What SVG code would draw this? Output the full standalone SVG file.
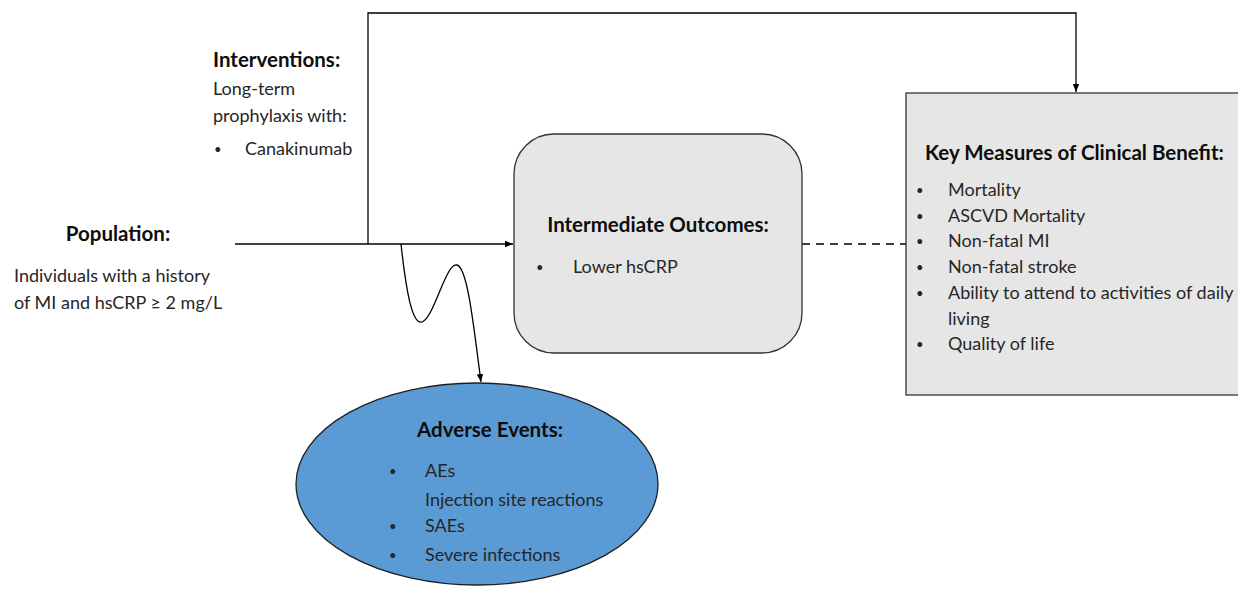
<svg xmlns="http://www.w3.org/2000/svg" width="1238" height="594" viewBox="0 0 1238 594">
<style>
text{font-family:Lato,"Open Sans","Liberation Sans",sans-serif;fill:#262626;font-size:18px}
.b{font-weight:bold;font-size:20.5px;fill:#0d0d0d}
.d{font-size:13px}
.ln{fill:none;stroke:#000;stroke-width:1.3}
.box{fill:#e6e6e6;stroke:#333;stroke-width:1.3}
</style>
<defs>
<marker id="ah" viewBox="0 0 10 10" refX="10" refY="5" markerWidth="8" markerHeight="8" markerUnits="userSpaceOnUse" orient="auto">
<path d="M0,1 L10,5 L0,9 z" fill="#000"/>
</marker>
</defs>
<rect width="1238" height="594" fill="#fff"/>
<g id="connectors">
<path class="ln" d="M235,244 H513" stroke-width="2" marker-end="url(#ah)"/>
<path class="ln" d="M368,244 V13 H1076 V92" marker-end="url(#ah)"/>
<path class="ln" d="M401,244 C406,290 412,325 422,322 C434,318 446,262 457,265 C468,268 474,330 481,382" marker-end="url(#ah)"/>
<path class="ln" d="M802,244 H906" stroke-width="2" stroke-dasharray="8,6" stroke="#333"/>
</g>
<g id="interventions">
<text class="b" x="213" y="67">Interventions:</text>
<text x="213" y="95">Long-term</text>
<text x="213" y="122">prophylaxis with:</text>
<text class="d" x="214" y="154">•</text>
<text x="245" y="155">Canakinumab</text>
</g>
<g id="population">
<text class="b" x="118" y="241" text-anchor="middle">Population:</text>
<text x="14" y="282">Individuals with a history</text>
<text x="14" y="309">of MI and hsCRP ≥ 2 mg/L</text>
</g>
<g id="intermediate">
<rect class="box" x="514" y="134" width="288" height="219" rx="40"/>
<text class="b" x="658" y="232" text-anchor="middle">Intermediate Outcomes:</text>
<text class="d" x="536" y="272">•</text>
<text x="573" y="273">Lower hsCRP</text>
</g>
<g id="key-measures">
<rect class="box" x="906" y="93" width="340" height="302"/>
<text class="b" x="925" y="160">Key Measures of Clinical Benefit:</text>
<text class="d" x="916" y="195">•</text><text x="948" y="196">Mortality</text>
<text class="d" x="916" y="221">•</text><text x="948" y="222">ASCVD Mortality</text>
<text class="d" x="916" y="246">•</text><text x="948" y="247">Non-fatal MI</text>
<text class="d" x="916" y="272">•</text><text x="948" y="273">Non-fatal stroke</text>
<text class="d" x="916" y="298">•</text><text x="948" y="299">Ability to attend to activities of daily</text>
<text x="948" y="325">living</text>
<text class="d" x="916" y="349">•</text><text x="948" y="350">Quality of life</text>
</g>
<g id="adverse-events">
<ellipse cx="477" cy="484" rx="181" ry="101" fill="#5b9bd5" stroke="#1f1f1f" stroke-width="1.3"/>
<text class="b" x="490" y="437" text-anchor="middle">Adverse Events:</text>
<text class="d" x="389" y="476">•</text><text x="425" y="477">AEs</text>
<text x="425" y="506">Injection site reactions</text>
<text class="d" x="389" y="531">•</text><text x="425" y="532">SAEs</text>
<text class="d" x="389" y="560">•</text><text x="425" y="561">Severe infections</text>
</g>
</svg>
